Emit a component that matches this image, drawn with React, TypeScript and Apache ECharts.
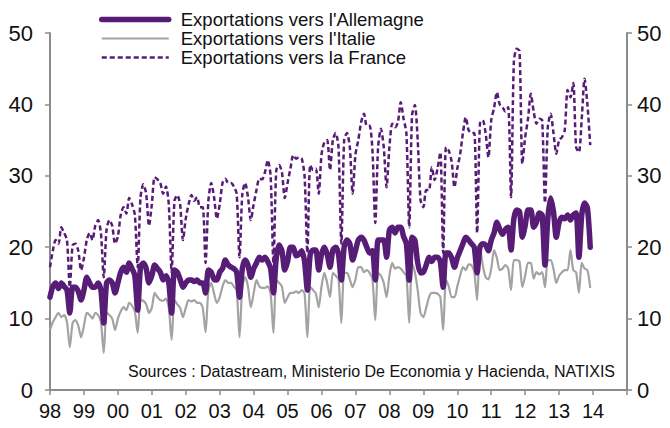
import React, { useEffect, useRef } from "react";
import * as echarts from "echarts";

const FONT = "'Liberation Sans', Arial, sans-serif";
const PURPLE = "#561c76";
const GREY = "#a3a3a3";

// First and last year of the category axis (monthly points, Jan 1998 .. Jan 2015)
const FIRST_YEAR = 1998;
const LAST_YEAR = 2015;

const Y_TICKS = [0, 10, 20, 30, 40, 50];

const LEGEND_NAMES = [
  "Exportations vers l'Allemagne",
  "Exportations vers l'Italie",
  "Exportations vers la France",
];

const SOURCE_TEXT = "Sources : Datastream, Ministerio De Economia y Hacienda, NATIXIS";

// Monthly values, one row per year (Jan..Dec), 1998 .. 2013
const GERMANY = [
  13, 14.5, 15, 14.2, 15, 14.5, 14, 10.8, 14.4, 14.4, 13.8, 12.6,
  14, 15.8, 15, 14.4, 14.4, 15, 14, 9.4, 15, 15.4, 15, 13.6,
  15, 16.5, 17.2, 16.5, 17.8, 17, 16, 11.2, 17.2, 17.8, 17, 15,
  16, 17.5, 17, 16.5, 15.4, 16, 15, 10.8, 16.8, 16.5, 15.5, 14.4,
  15, 15.4, 15.4, 15.2, 15.4, 15, 15, 13.6, 16.8, 16.5, 15.5, 15.4,
  16.5, 17, 18.2, 17.5, 17.2, 17, 16.5, 13, 17, 18.2, 17.5, 15.8,
  17, 17.8, 18.6, 18.2, 18.6, 18, 17, 13.6, 18.5, 20.3, 19.5, 16.8,
  18, 20, 20, 18.8, 19, 19.5, 18, 14, 19, 19.6, 19.6, 16.8,
  19, 20, 19, 17.2, 19.6, 20, 19, 15.4, 20, 21, 20.5, 18.2,
  19.5, 21, 21.4, 21, 20, 19.2, 19.5, 15.4, 21, 21, 21, 18.6,
  22.4, 22.8, 22, 22.8, 22.8, 21.5, 20.5, 15.4, 21.4, 21, 17.8, 16.4,
  16.5, 17.5, 18.6, 18, 18.6, 18.6, 18, 14.4, 19.2, 19.2, 18.5, 17.2,
  18.5, 19.5, 20.5, 21.4, 21, 20.5, 20, 16.4, 20, 20.5, 20.3, 19.5,
  21, 22, 23.5, 22.5, 21.8, 22.5, 22.8, 19.6, 24, 25.2, 25, 21.4,
  23, 25.2, 25.2, 22.8, 23.5, 24.8, 24.5, 17.5, 24, 26.9, 25, 21.4,
  23.5, 24.2, 24, 24.5, 23.8, 24.5, 24.8, 18.6, 24.5, 26.2, 25.5, 20,
];

const ITALY = [
  8.4, 9.5, 10.2, 10.8, 10.2, 10.5, 9.5, 6, 9.4, 9.8, 9, 7.4,
  9, 10.8, 10.5, 10, 10.8, 10.5, 9.5, 5.2, 10.8, 10.5, 10, 8.4,
  10, 11, 11.6, 11.2, 12.2, 11.8, 11, 8, 12.6, 12.5, 12, 10.8,
  11.5, 13.6, 13, 12.6, 12.5, 12.8, 11.5, 7, 12.6, 12, 11.5, 10.2,
  11.5, 12.6, 12.4, 12.6, 12.2, 12.2, 11.5, 8.1, 14, 15, 13.5, 12.2,
  13, 14.5, 15.4, 15, 15, 14.5, 14, 7.4, 14.5, 15.8, 14.5, 11.6,
  13.5, 15.4, 14.5, 14.3, 14.3, 14.5, 13.5, 8, 15.4, 15, 14.5, 12.2,
  13, 13.6, 13.6, 13.8, 13.6, 14, 13.5, 7.4, 14.4, 14, 13.5, 11.6,
  14.5, 16.4, 15, 13, 16.4, 16, 15.5, 9.4, 16.4, 16.4, 15.5, 14.4,
  15.5, 17.2, 17.2, 16.5, 16.8, 16.4, 15.5, 9.8, 16.4, 16, 15, 13,
  16, 17.8, 17, 17.2, 17, 16.5, 16, 9.4, 17.8, 16.5, 14, 10.8,
  10.2, 11.5, 13, 13.6, 13.6, 13.5, 13, 8.4, 15.4, 14.5, 13, 13,
  14.5, 16, 17.2, 16.8, 17.6, 17.5, 16.5, 12.6, 20, 17.5, 15.8, 15.5,
  17, 19.6, 18.5, 16.8, 17, 17.5, 17, 14, 18.2, 18.2, 18, 14.4,
  16, 17.8, 17.8, 15.6, 16.5, 16.2, 16.5, 14.4, 18.2, 18.2, 17, 15,
  16, 16.5, 16.8, 16.8, 19.6, 16.8, 16.5, 13.6, 17.8, 17, 16.8, 14.3,
];

const FRANCE = [
  17.2, 19.5, 21, 20.5, 22.8, 22, 21, 14.4, 20.3, 20.5, 19.5, 16.8,
  18.5, 21, 22, 21, 23, 23.8, 22, 15.8, 22.5, 23.8, 23, 20.5,
  21.5, 24.5, 25.6, 24.7, 26.9, 26, 24.5, 17.2, 27, 28.8, 27.5, 23,
  26, 29.8, 29.5, 29, 27.5, 28.5, 26, 16.5, 26.5, 27.3, 26, 21,
  24, 26, 27.3, 26.5, 27, 25.6, 25.6, 17.8, 26.5, 29, 27, 24,
  26, 29, 29.6, 29, 29, 28.5, 27.5, 18.6, 27.5, 29, 27, 23.8,
  26, 28, 29.6, 29.5, 30.5, 32.2, 30, 17.8, 30.8, 31.5, 30.5, 26.9,
  29, 31, 32.9, 32.4, 32.6, 32.4, 30, 19.2, 31.5, 30.8, 31, 27.5,
  33, 34.7, 35, 30.8, 35, 36, 34, 20.5, 35, 36, 34, 27.5,
  33, 35, 37.5, 38.7, 37, 37, 33.6, 23.4, 34, 36.6, 34, 28.4,
  34, 37.3, 36.8, 37.5, 40.3, 38, 36, 22.8, 38.5, 39.9, 35, 26.6,
  25.6, 28, 28, 31.2, 29.4, 31, 33.3, 19.2, 34, 33.5, 32, 28.4,
  31, 33, 36, 38.2, 36.4, 36, 36, 22, 37.3, 37.8, 36, 32.6,
  37.8, 39.5, 41.7, 40, 39.6, 39, 39.6, 27, 46, 47.8, 47.5, 31.7,
  35.4, 38, 41.5, 39, 37.3, 38, 37.8, 26.2, 36.8, 38.7, 36, 33.1,
  35, 35.4, 36.4, 42, 41, 43, 34, 33.3, 38, 43.6, 40, 34.3,
];

function buildCategories(): string[] {
  const cats: string[] = [];
  for (let y = FIRST_YEAR; y < LAST_YEAR; y++) {
    for (let m = 1; m <= 12; m++) {
      cats.push(`${y}-${m < 10 ? "0" + m : m}`);
    }
  }
  cats.push(`${LAST_YEAR}-01`);
  return cats;
}

const CATEGORIES = buildCategories();

export default function App() {
  const ref = useRef<HTMLDivElement>(null);

  useEffect(() => {
    if (!ref.current) return;
    const chart = echarts.init(ref.current, undefined, { renderer: "svg" });

    const yAxisCommon = {
      type: "value" as const,
      min: Y_TICKS[0],
      max: Y_TICKS[Y_TICKS.length - 1],
      interval: 10,
      splitLine: { show: false },
      axisLine: { show: true, lineStyle: { color: "#8c8c8c", width: 2 } },
      axisTick: { show: true, length: 5, lineStyle: { color: "#8c8c8c", width: 1.5 } },
      axisLabel: { color: "#111", fontSize: 22, fontFamily: FONT },
    };

    const option: any = {
      animation: false,
      backgroundColor: "#ffffff",
      textStyle: { fontFamily: FONT },
      grid: { left: 50, right: 43, top: 33, bottom: 38, containLabel: false },
      legend: {
        orient: "vertical",
        left: 99,
        top: 10,
        padding: 0,
        itemWidth: 67,
        itemHeight: 2,
        itemGap: 0,
        data: LEGEND_NAMES,
        itemStyle: { opacity: 0 },
        lineStyle: { width: "inherit", type: "inherit" },
        textStyle: {
          fontSize: 18.5,
          fontFamily: FONT,
          color: "#111",
          lineHeight: 18.5,
          padding: [0, 0, 0, 7],
        },
      },
      xAxis: {
        type: "category",
        data: CATEGORIES,
        boundaryGap: false,
        axisLine: { show: true, lineStyle: { color: "#8c8c8c", width: 2 } },
        axisTick: {
          show: true,
          length: 5,
          interval: (i: number) => i % 12 === 0,
          lineStyle: { color: "#8c8c8c", width: 1.5 },
        },
        axisLabel: {
          interval: (i: number) => i % 12 === 0,
          margin: 11,
          color: "#111",
          fontSize: 20,
          fontFamily: FONT,
          formatter: (v: string) => {
            const [y, m] = v.split("-");
            if (m !== "01" || Number(y) >= LAST_YEAR) return "";
            return y.slice(2);
          },
        },
        splitLine: { show: false },
      },
      yAxis: [
        { ...yAxisCommon, position: "left", axisLabel: { ...yAxisCommon.axisLabel, margin: 17 } },
        { ...yAxisCommon, position: "right", axisLabel: { ...yAxisCommon.axisLabel, margin: 10 } },
      ],
      series: [
        {
          name: LEGEND_NAMES[0],
          type: "line",
          data: GERMANY,
          symbol: "none",
          smooth: 0.25,
          lineStyle: { color: PURPLE, width: 5.5, cap: "round", join: "round" },
          itemStyle: { color: PURPLE },
          z: 3,
        },
        {
          name: LEGEND_NAMES[1],
          type: "line",
          data: ITALY,
          symbol: "none",
          smooth: 0.25,
          lineStyle: { color: GREY, width: 2.2 },
          itemStyle: { color: GREY },
          z: 2,
        },
        {
          name: LEGEND_NAMES[2],
          type: "line",
          data: FRANCE,
          symbol: "none",
          smooth: 0.25,
          lineStyle: { color: PURPLE, width: 2.5, type: [5, 3] },
          itemStyle: { color: PURPLE },
          z: 4,
        },
      ],
      graphic: [
        {
          type: "text",
          left: 128,
          top: 363,
          style: {
            text: SOURCE_TEXT,
            fontSize: 16,
            fontFamily: FONT,
            fill: "#111",
          },
        },
      ],
    };

    chart.setOption(option);
    return () => chart.dispose();
  }, []);

  return (
    <div
      ref={ref}
      style={{ position: "fixed", left: 0, top: 0, width: 670, height: 428 }}
    />
  );
}
